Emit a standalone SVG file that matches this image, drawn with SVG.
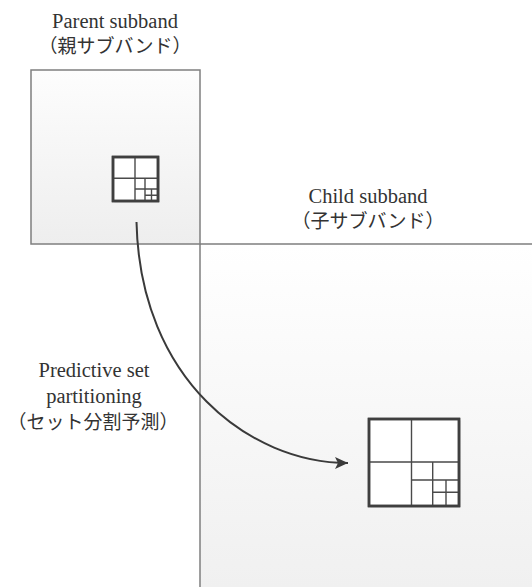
<svg xmlns="http://www.w3.org/2000/svg" width="532" height="587" viewBox="0 0 532 587">
  <style>
    .lbl { font-family: "Liberation Serif", "Noto Sans CJK JP", serif; font-size: 20.5px; fill: #333333; text-anchor: middle; }
    .jp { font-family: "Liberation Serif", "Noto Sans CJK JP", serif; font-size: 19px; fill: #333333; text-anchor: middle; }
    .frame { stroke: #7f7f7f; stroke-width: 1.5; fill: none; }
    .outer { fill: #ffffff; stroke: #3f3f3f; stroke-width: 2.5; }
    .inner { stroke: #4a4a4a; stroke-width: 1.4; fill: none; }
    .shadow { fill: #d8d8d8; }
    .conn { fill: none; stroke: #3a3a3a; stroke-width: 2; }
  </style>
  <defs>
    <linearGradient id="gParent" x1="0" y1="0" x2="0" y2="1">
      <stop offset="0" stop-color="#fdfdfd"/>
      <stop offset="1" stop-color="#eeeeee"/>
    </linearGradient>
    <linearGradient id="gChild" x1="0" y1="0" x2="0" y2="1">
      <stop offset="0" stop-color="#ffffff"/>
      <stop offset="1" stop-color="#f0f0f0"/>
    </linearGradient>
    <marker id="arrow" markerUnits="userSpaceOnUse" markerWidth="14" markerHeight="12" refX="13" refY="6" orient="auto">
      <path d="M0,0 L13,6 L0,12 L3,6 z" fill="#3a3a3a"/>
    </marker>
  </defs>
  <rect width="532" height="587" fill="#ffffff"/>

  <g id="child">
    <rect x="200" y="244" width="332" height="343" fill="url(#gChild)"/>
    <path class="frame" d="M200,587 V244 H532"/>
    <text class="lbl" x="368" y="203">Child subband</text>
    <text class="jp" x="368" y="228">（子サブバンド）</text>
  </g>

  <g id="parent">
    <rect x="31" y="70" width="169" height="174" fill="url(#gParent)" class="frame" style="fill:url(#gParent)"/>
    <text class="lbl" x="115" y="28">Parent subband</text>
    <text class="jp" x="115" y="53">（親サブバンド）</text>
  </g>

  <g id="parent-block">
    <rect class="shadow" x="114.5" y="158.5" width="45" height="44"/>
    <rect class="outer" x="113" y="157" width="45" height="44"/>
    <path class="inner" d="M135,157 V201 M113,178.3 H158 M145,178.3 V201 M135,189 H158 M151.5,189 V201 M145,195.2 H158"/>
    <rect x="113" y="157" width="45" height="44" fill="none" stroke="#3f3f3f" stroke-width="2.5"/>
  </g>

  <g id="child-block">
    <rect class="shadow" x="370.5" y="420.5" width="90" height="87"/>
    <rect class="outer" x="369" y="419" width="90" height="87"/>
    <path class="inner" d="M411.5,419 V506 M369,462 H459 M432.7,462 V506 M411.5,480 H459 M446,480 V506 M432.7,492.3 H459"/>
    <rect x="369" y="419" width="90" height="87" fill="none" stroke="#3f3f3f" stroke-width="2.5"/>
  </g>

  <g id="predictive-label">
    <text class="lbl" x="94" y="377">Predictive set</text>
    <text class="lbl" x="94" y="403">partitioning</text>
    <text class="jp" x="93" y="429">（セット分割予測）</text>
  </g>

  <g id="connectors">
    <path class="conn" d="M136.5,222 C140,380 250,463 348,463" marker-end="url(#arrow)"/>
  </g>
</svg>
